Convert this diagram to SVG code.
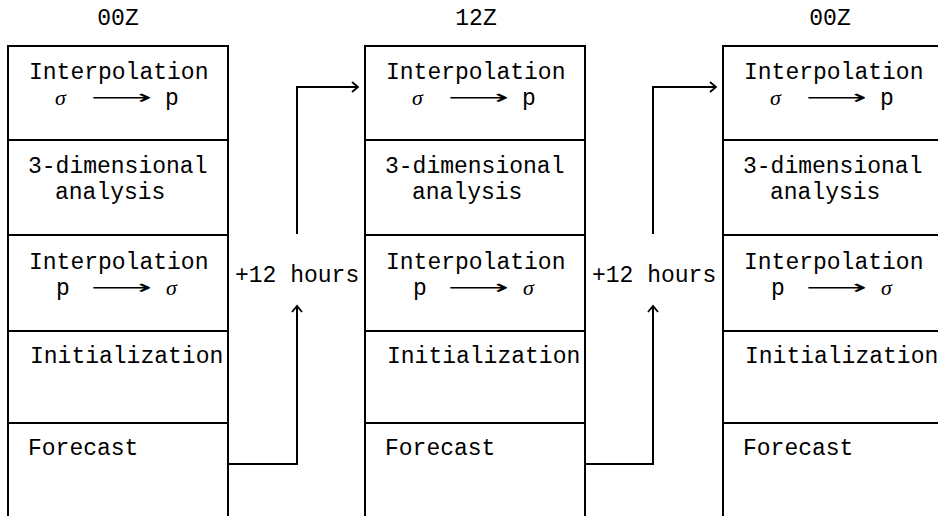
<svg xmlns="http://www.w3.org/2000/svg" width="938" height="516" viewBox="0 0 938 516">
<style>
.cell{fill:#fff;stroke:#000;stroke-width:2}
.t{font-family:"Liberation Mono","DejaVu Sans Mono",monospace;font-size:23px;fill:#000}
.s{font-family:"Liberation Serif","DejaVu Serif",serif;font-style:italic;font-size:22px;fill:#000}
.a{font-family:"DejaVu Sans",sans-serif;font-size:20px;fill:#000}
.c{fill:none;stroke:#000;stroke-width:2}
</style>
<defs>
<marker id="ah" markerUnits="userSpaceOnUse" markerWidth="12" markerHeight="14" refX="7" refY="6" orient="auto" viewBox="0 0 12 14">
<path d="M1,1 L7,6 L1,11" fill="none" stroke="#000" stroke-width="1.8"/>
</marker>
</defs>
<rect width="938" height="516" fill="#fff"/>

<g id="col1">
<text class="t" x="118" y="25" text-anchor="middle">00Z</text>
<g id="c1-interp-sp"><rect class="cell" x="8" y="46" width="220" height="94"/>
<text class="t" x="29" y="79">Interpolation</text>
<text y="105"><tspan class="s" x="55">σ</tspan><tspan class="a" x="91" dy="-1" textLength="61" lengthAdjust="spacingAndGlyphs">⟶</tspan><tspan class="t" x="165" dy="1">p</tspan></text></g>
<g id="c1-analysis"><rect class="cell" x="8" y="140" width="220" height="95"/>
<text class="t" x="28" y="173">3-dimensional</text>
<text class="t" x="55" y="199">analysis</text></g>
<g id="c1-interp-ps"><rect class="cell" x="8" y="235" width="220" height="96"/>
<text class="t" x="29" y="269">Interpolation</text>
<text y="295"><tspan class="t" x="56">p</tspan><tspan class="a" x="91" dy="-1" textLength="61" lengthAdjust="spacingAndGlyphs">⟶</tspan><tspan class="s" x="166" dy="1">σ</tspan></text></g>
<g id="c1-init"><rect class="cell" x="8" y="331" width="220" height="92"/>
<text class="t" x="30" y="363">Initialization</text></g>
<g id="c1-forecast"><rect class="cell" x="8" y="423" width="220" height="100"/>
<text class="t" x="28" y="455">Forecast</text></g>
</g>

<g id="col2" transform="translate(357,0)">
<text class="t" x="119" y="25" text-anchor="middle">12Z</text>
<g id="c2-interp-sp"><rect class="cell" x="8" y="46" width="220" height="94"/>
<text class="t" x="29" y="79">Interpolation</text>
<text y="105"><tspan class="s" x="55">σ</tspan><tspan class="a" x="91" dy="-1" textLength="61" lengthAdjust="spacingAndGlyphs">⟶</tspan><tspan class="t" x="165" dy="1">p</tspan></text></g>
<g id="c2-analysis"><rect class="cell" x="8" y="140" width="220" height="95"/>
<text class="t" x="28" y="173">3-dimensional</text>
<text class="t" x="55" y="199">analysis</text></g>
<g id="c2-interp-ps"><rect class="cell" x="8" y="235" width="220" height="96"/>
<text class="t" x="29" y="269">Interpolation</text>
<text y="295"><tspan class="t" x="56">p</tspan><tspan class="a" x="91" dy="-1" textLength="61" lengthAdjust="spacingAndGlyphs">⟶</tspan><tspan class="s" x="166" dy="1">σ</tspan></text></g>
<g id="c2-init"><rect class="cell" x="8" y="331" width="220" height="92"/>
<text class="t" x="30" y="363">Initialization</text></g>
<g id="c2-forecast"><rect class="cell" x="8" y="423" width="220" height="100"/>
<text class="t" x="28" y="455">Forecast</text></g>
</g>

<g id="col3" transform="translate(715,0)">
<text class="t" x="115" y="25" text-anchor="middle">00Z</text>
<g id="c3-interp-sp"><rect class="cell" x="8" y="46" width="220" height="94"/>
<text class="t" x="29" y="79">Interpolation</text>
<text y="105"><tspan class="s" x="55">σ</tspan><tspan class="a" x="91" dy="-1" textLength="61" lengthAdjust="spacingAndGlyphs">⟶</tspan><tspan class="t" x="165" dy="1">p</tspan></text></g>
<g id="c3-analysis"><rect class="cell" x="8" y="140" width="220" height="95"/>
<text class="t" x="28" y="173">3-dimensional</text>
<text class="t" x="55" y="199">analysis</text></g>
<g id="c3-interp-ps"><rect class="cell" x="8" y="235" width="220" height="96"/>
<text class="t" x="29" y="269">Interpolation</text>
<text y="295"><tspan class="t" x="56">p</tspan><tspan class="a" x="91" dy="-1" textLength="61" lengthAdjust="spacingAndGlyphs">⟶</tspan><tspan class="s" x="166" dy="1">σ</tspan></text></g>
<g id="c3-init"><rect class="cell" x="8" y="331" width="220" height="92"/>
<text class="t" x="30" y="363">Initialization</text></g>
<g id="c3-forecast"><rect class="cell" x="8" y="423" width="220" height="100"/>
<text class="t" x="28" y="455">Forecast</text></g>
</g>

<g id="connectors">
<path class="c" d="M228,464 H297 V306" marker-end="url(#ah)"/>
<path class="c" d="M297,234 V87 H358" marker-end="url(#ah)"/>
<text class="t" x="235" y="282">+12 hours</text>
<path class="c" d="M585,464 H653 V306" marker-end="url(#ah)"/>
<path class="c" d="M653,234 V87 H716" marker-end="url(#ah)"/>
<text class="t" x="592" y="282">+12 hours</text>
</g>
</svg>
